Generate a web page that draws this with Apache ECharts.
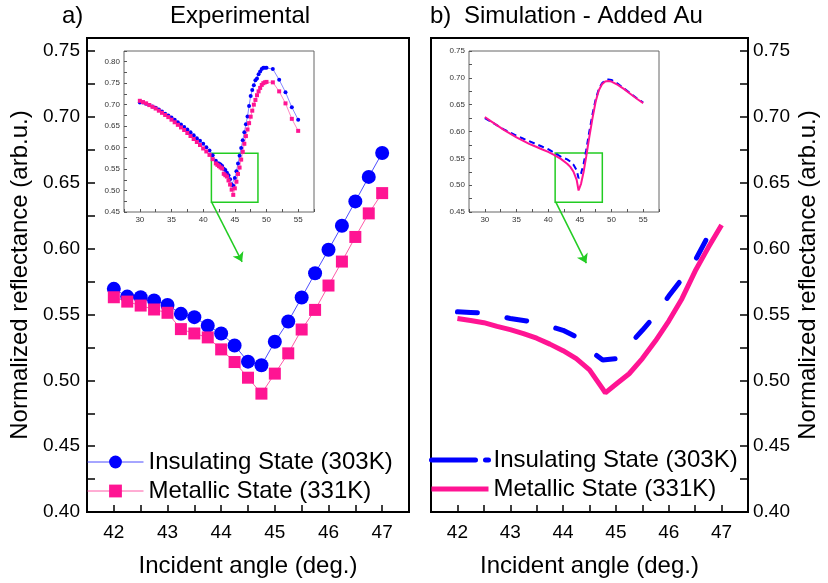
<!DOCTYPE html>
<html>
<head>
<meta charset="utf-8">
<script src="https://cdn.jsdelivr.net/npm/echarts@6/dist/echarts.min.js"></script>
<style>
  html, body { margin: 0; padding: 0; background: #fff; }
  #chart { width: 828px; height: 583px; }
</style>
</head>
<body>
<div id="chart"></div>
<script>
// ---- main panels (zoomed region 42..47 deg) ----
var angles = [42, 42.25, 42.5, 42.75, 43, 43.25, 43.5, 43.75, 44, 44.25, 44.5, 44.75, 45, 45.25, 45.5, 45.75, 46, 46.25, 46.5, 46.75, 47];
var expInsulating = [0.5695, 0.5636, 0.5631, 0.5606, 0.5573, 0.5505, 0.548, 0.5414, 0.5356, 0.5265, 0.5142, 0.5114, 0.5293, 0.5447, 0.5629, 0.5813, 0.5992, 0.6174, 0.6359, 0.6545, 0.6727];
var expMetallic = [0.5631, 0.5598, 0.5568, 0.5538, 0.5513, 0.5389, 0.5356, 0.5326, 0.5235, 0.5139, 0.502, 0.4899, 0.5051, 0.5205, 0.5386, 0.5535, 0.572, 0.5902, 0.6089, 0.6268, 0.6422];

var simInsAngles = [42, 42.25, 42.5, 42.75, 43, 43.25, 43.5, 43.75, 44, 44.25, 44.5, 44.75, 45, 45.25, 45.5, 45.75, 46, 46.25, 46.5, 46.75, 46.8];
var simInsulating = [0.552, 0.5515, 0.551, 0.549, 0.547, 0.5455, 0.544, 0.541, 0.538, 0.533, 0.523, 0.5155, 0.5165, 0.527, 0.538, 0.5495, 0.564, 0.577, 0.591, 0.610, 0.613];
var simMetAngles = [42, 42.25, 42.5, 42.75, 43, 43.25, 43.5, 43.75, 44, 44.25, 44.5, 44.75, 44.8, 45, 45.25, 45.5, 45.75, 46, 46.25, 46.5, 46.75, 47];
var simMetallic = [0.547, 0.5455, 0.5438, 0.541, 0.5385, 0.5355, 0.532, 0.5275, 0.5225, 0.5165, 0.508, 0.4935, 0.4905, 0.497, 0.505, 0.5165, 0.530, 0.545, 0.562, 0.583, 0.601, 0.618];

// ---- inset a) full experimental scan ----
var insetAnglesLow = [30, 30.5, 31, 31.5, 32, 32.5, 33, 33.5, 34, 34.5, 35, 35.5, 36, 36.5, 37, 37.5, 38, 38.5, 39, 39.5, 40, 40.5, 41, 41.5];
var insetInsLow = [0.705, 0.705, 0.702, 0.699, 0.696, 0.693, 0.689, 0.684, 0.679, 0.675, 0.670, 0.665, 0.659, 0.654, 0.648, 0.642, 0.636, 0.629, 0.622, 0.616, 0.609, 0.601, 0.593, 0.582];
var insetMetLow = [0.709, 0.706, 0.703, 0.699, 0.695, 0.691, 0.686, 0.681, 0.676, 0.671, 0.665, 0.659, 0.653, 0.647, 0.641, 0.634, 0.627, 0.620, 0.613, 0.606, 0.598, 0.591, 0.583, 0.573];
var insetAnglesHigh = [47.25, 47.5, 47.75, 48, 48.25, 48.5, 48.75, 49, 49.25, 49.5, 49.75, 50, 51, 52, 53, 54, 55];
var insetInsHigh = [0.697, 0.720, 0.734, 0.745, 0.757, 0.761, 0.771, 0.777, 0.783, 0.786, 0.786, 0.786, 0.783, 0.758, 0.729, 0.694, 0.665];
var insetMetHigh = [0.657, 0.672, 0.686, 0.700, 0.711, 0.722, 0.731, 0.739, 0.746, 0.750, 0.752, 0.753, 0.752, 0.731, 0.703, 0.667, 0.639];

// ---- inset b) full simulation ----
var simInsetAngles = [30, 31, 32, 33, 34, 35, 36, 37, 38, 39, 40, 41, 42, 43, 43.5, 44, 44.5, 44.8, 45.2, 45.6, 46, 46.5, 47, 47.5, 48, 48.5, 49, 49.5, 50, 51, 52, 53, 54, 55];
var simInsetIns = [0.625, 0.618, 0.611, 0.604, 0.598, 0.592, 0.587, 0.582, 0.577, 0.572, 0.567, 0.560, 0.553, 0.548, 0.544, 0.538, 0.528, 0.513, 0.522, 0.540, 0.565, 0.600, 0.632, 0.660, 0.679, 0.690, 0.695, 0.697, 0.696, 0.689, 0.680, 0.671, 0.662, 0.654];
var simInsetMet = [0.627, 0.619, 0.611, 0.603, 0.596, 0.589, 0.583, 0.577, 0.572, 0.567, 0.562, 0.556, 0.549, 0.540, 0.534, 0.525, 0.510, 0.490, 0.503, 0.525, 0.553, 0.590, 0.625, 0.656, 0.677, 0.688, 0.693, 0.694, 0.693, 0.687, 0.679, 0.670, 0.661, 0.653];

// zoom boxes (inset data coords) and arrows (main data coords)
var boxA = [[41.3, 0.587], [48.65, 0.473]];
var boxB = [[41.1, 0.560], [48.55, 0.468]];
var arrowA = [[43.82, 0.6356], [44.39, 0.590]];
var arrowB = [[43.86, 0.6356], [44.44, 0.589]];

var FONT = "'Liberation Sans', Arial, sans-serif";
var GREEN = '#22cc22';

function pairs(xs, ys) {
  return xs.map(function (x, i) { return [x, ys[i]]; });
}
function every(step, dec) {
  return function (v) {
    var k = v / step;
    return Math.abs(k - Math.round(k)) < 1e-6 ? v.toFixed(dec) : '';
  };
}

function mainX(grid) {
  return {
    gridIndex: grid, type: 'value', min: 41.5, max: 47.5, interval: 0.5,
    axisLine: { show: false }, splitLine: { show: false },
    axisTick: { inside: true, length: 7, lineStyle: { color: '#000', width: 1.5 } },
    axisLabel: { margin: 11, fontSize: 19, color: '#000', fontFamily: FONT, formatter: every(1, 0) },
    name: 'Incident angle (deg.)', nameLocation: 'middle', nameGap: 42,
    nameTextStyle: { fontSize: 24, color: '#000', fontFamily: FONT }
  };
}
function mainY(grid, pos, gap, margin) {
  return {
    gridIndex: grid, type: 'value', position: pos, min: 0.40, max: 0.76, interval: 0.025,
    axisLine: { show: false }, splitLine: { show: false },
    axisTick: { inside: true, length: 8, lineStyle: { color: '#000', width: 1.5 } },
    axisLabel: { margin: margin, fontSize: 19, color: '#000', fontFamily: FONT, formatter: every(0.05, 2) },
    name: 'Normalized reflectance (arb.u.)', nameLocation: 'middle', nameGap: gap, nameRotate: 90,
    nameTextStyle: { fontSize: 24, color: '#000', fontFamily: FONT }
  };
}
function insetX(grid) {
  return {
    gridIndex: grid, type: 'value', min: 27.5, max: 57.5, interval: 2.5,
    axisLine: { show: false }, splitLine: { show: false },
    axisTick: { inside: true, length: 3, lineStyle: { color: '#555' } },
    axisLabel: { margin: 4, fontSize: 8, color: '#333', fontFamily: FONT, formatter: every(5, 0) }
  };
}
function insetY(grid, max) {
  return {
    gridIndex: grid, type: 'value', min: 0.45, max: max, interval: 0.025,
    axisLine: { show: false }, splitLine: { show: false },
    axisTick: { inside: true, length: 3, lineStyle: { color: '#555' } },
    axisLabel: { margin: 4, fontSize: 8, color: '#333', fontFamily: FONT, formatter: every(0.05, 2) }
  };
}
function arrowLine(a) {
  return {
    silent: true, symbol: ['none', 'arrow'], symbolSize: 9,
    label: { show: false },
    lineStyle: { color: GREEN, width: 1.5, type: 'solid' },
    data: [[{ coord: a[0] }, { coord: a[1] }]]
  };
}
function boxArea(b) {
  return {
    silent: true,
    itemStyle: { color: 'rgba(0,0,0,0)', borderColor: GREEN, borderWidth: 1.5 },
    data: [[{ coord: b[0] }, { coord: b[1] }]]
  };
}

var INS = 'Insulating State (303K)';
var MET = 'Metallic State (331K)';

var chart = echarts.init(document.getElementById('chart'), null, { renderer: 'canvas' });

var option = {
  animation: false,
  backgroundColor: '#fff',
  title: [
    { text: 'a)', left: 57, top: -1, textStyle: { fontSize: 24, fontWeight: 'normal', color: '#000', fontFamily: FONT } },
    { text: 'Experimental', left: 165, top: -1, textStyle: { fontSize: 24, fontWeight: 'normal', color: '#000', fontFamily: FONT } },
    { text: 'b)', left: 425, top: -1, textStyle: { fontSize: 24, fontWeight: 'normal', color: '#000', fontFamily: FONT } },
    { text: 'Simulation - Added Au', left: 459, top: -1, textStyle: { fontSize: 24, fontWeight: 'normal', color: '#000', fontFamily: FONT } }
  ],
  legend: [
    {
      left: 82, top: 445, orient: 'vertical', itemWidth: 56, itemHeight: 16, itemGap: 5,
      selectedMode: false, data: [INS, MET],
      lineStyle: { width: 1 },
      textStyle: { fontSize: 24, color: '#000', fontFamily: FONT, lineHeight: 24 }
    },
    {
      left: 424, top: 443, orient: 'vertical', itemWidth: 57, itemHeight: 14, itemGap: 5,
      selectedMode: false,
      data: [{ name: INS + ' ', lineStyle: { type: [44, 10] } }, MET + ' '],
      lineStyle: { width: 5 },
      itemStyle: { opacity: 0 },
      textStyle: { fontSize: 24, color: '#000', fontFamily: FONT, lineHeight: 24 }
    }
  ],
  grid: [
    { left: 87, top: 38, width: 322, height: 475, show: true, borderColor: '#000', borderWidth: 2 },
    { left: 431, top: 38, width: 317, height: 475, show: true, borderColor: '#000', borderWidth: 2 },
    { left: 124, top: 51, width: 190, height: 161, show: true, borderColor: '#666', borderWidth: 1, backgroundColor: '#fff' },
    { left: 469, top: 51, width: 190, height: 161, show: true, borderColor: '#666', borderWidth: 1, backgroundColor: '#fff' }
  ],
  xAxis: [mainX(0), mainX(1), insetX(2), insetX(3)],
  yAxis: [mainY(0, 'left', 55, 7), mainY(1, 'right', 48, 5), insetY(2, 0.825), insetY(3, 0.75)],
  series: [
    {
      name: INS, type: 'line', xAxisIndex: 0, yAxisIndex: 0,
      symbol: 'circle', symbolSize: 14,
      itemStyle: { color: '#0000ff' },
      lineStyle: { color: '#4d4dff', width: 1 },
      data: pairs(angles, expInsulating),
      markLine: arrowLine(arrowA)
    },
    {
      name: MET, type: 'line', xAxisIndex: 0, yAxisIndex: 0,
      symbol: 'rect', symbolSize: 12,
      itemStyle: { color: '#ff1493' },
      lineStyle: { color: '#ff5aa8', width: 1 },
      data: pairs(angles, expMetallic)
    },
    {
      name: INS + ' ', type: 'line', xAxisIndex: 1, yAxisIndex: 1,
      symbol: 'none',
      itemStyle: { color: '#0000ff' },
      lineStyle: { color: '#0000ff', width: 5, type: [20, 30], cap: 'round' },
      data: pairs(simInsAngles, simInsulating),
      markLine: arrowLine(arrowB)
    },
    {
      name: MET + ' ', type: 'line', xAxisIndex: 1, yAxisIndex: 1,
      symbol: 'none',
      itemStyle: { color: '#ff1493' },
      lineStyle: { color: '#ff1493', width: 5 },
      data: pairs(simMetAngles, simMetallic)
    },
    {
      name: 'inset-a-ins', type: 'line', xAxisIndex: 2, yAxisIndex: 2, z: 4,
      symbol: 'circle', symbolSize: 4,
      itemStyle: { color: '#0000ff' },
      lineStyle: { color: '#6a6aff', width: 0.8 },
      data: pairs(insetAnglesLow.concat(angles, insetAnglesHigh), insetInsLow.concat(expInsulating, insetInsHigh))
    },
    {
      name: 'inset-a-met', type: 'line', xAxisIndex: 2, yAxisIndex: 2, z: 4,
      symbol: 'rect', symbolSize: 4,
      itemStyle: { color: '#ff1493' },
      lineStyle: { color: '#ff6ab0', width: 0.8 },
      data: pairs(insetAnglesLow.concat(angles, insetAnglesHigh), insetMetLow.concat(expMetallic, insetMetHigh)),
      markArea: boxArea(boxA)
    },
    {
      name: 'inset-b-ins', type: 'line', xAxisIndex: 3, yAxisIndex: 3, z: 4,
      symbol: 'none',
      lineStyle: { color: '#0000ff', width: 2, type: [6, 4] },
      data: pairs(simInsetAngles, simInsetIns)
    },
    {
      name: 'inset-b-met', type: 'line', xAxisIndex: 3, yAxisIndex: 3, z: 4,
      symbol: 'none',
      lineStyle: { color: '#ff1493', width: 2 },
      data: pairs(simInsetAngles, simInsetMet),
      markArea: boxArea(boxB)
    }
  ]
};

chart.setOption(option);
window.addEventListener('resize', chart.resize);
</script>
</body>
</html>
